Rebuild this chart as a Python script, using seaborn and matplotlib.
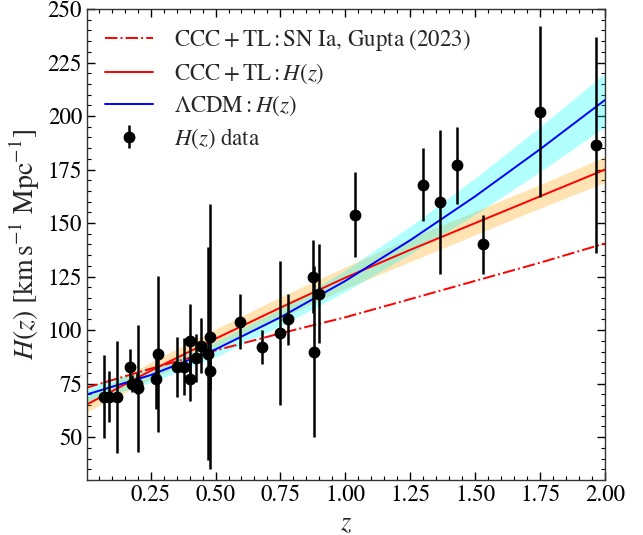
import numpy as np
import matplotlib
matplotlib.use("Agg")
import matplotlib.pyplot as plt
from matplotlib.ticker import MultipleLocator
import seaborn as sns

# H(z) cosmic chronometer data
z_data = [0.07, 0.09, 0.12, 0.17, 0.179, 0.199, 0.20, 0.27, 0.28, 0.352, 0.38,
          0.40, 0.4004, 0.425, 0.445, 0.47, 0.4783, 0.48, 0.593, 0.68, 0.75,
          0.781, 0.875, 0.88, 0.90, 1.037, 1.30, 1.363, 1.43, 1.53, 1.75, 1.965]
H_data = [69.0, 69.0, 68.6, 83.0, 75.0, 75.0, 72.9, 77.0, 88.8, 83.0, 83.0,
          95.0, 77.0, 87.1, 92.8, 89.0, 80.9, 97.0, 104.0, 92.0, 98.8,
          105.0, 125.0, 90.0, 117.0, 154.0, 168.0, 160.0, 177.0, 140.0, 202.0, 186.5]
H_err = [19.6, 12.0, 26.2, 8.0, 4.0, 5.0, 29.6, 14.0, 36.6, 14.0, 13.5,
         17.0, 10.2, 11.2, 12.9, 49.6, 9.0, 62.0, 13.0, 8.0, 33.6,
         12.0, 17.0, 40.0, 23.0, 20.0, 17.0, 33.6, 18.0, 14.0, 40.0, 50.4]

# model curves
z_grid = [0.0, 0.25, 0.5, 0.75, 1.0, 1.25, 1.5, 1.75, 2.0]
H_sn = [73.0, 82.0, 90.5, 98.5, 106.0, 114.5, 123.0, 131.5, 140.5]
H_ccc = [65.0, 81.0, 96.0, 110.5, 124.5, 137.5, 150.0, 162.5, 175.0]
H_ccc_lo = [61.5, 77.0, 91.5, 105.5, 119.5, 132.0, 144.5, 157.0, 169.0]
H_ccc_hi = [68.5, 85.0, 100.5, 115.5, 129.5, 143.0, 155.5, 168.0, 181.0]
H_lcdm = [69.8, 79.0, 91.0, 106.0, 123.0, 142.0, 162.5, 184.5, 207.5]
H_lcdm_lo = [66.1, 75.5, 87.5, 102.0, 118.0, 135.5, 154.0, 174.0, 195.0]
H_lcdm_hi = [73.5, 82.5, 94.5, 110.0, 128.0, 148.5, 171.0, 195.0, 220.0]

sns.set_style("ticks")
plt.rcParams['font.family'] = ['STIXGeneral', 'DejaVu Serif']
plt.rcParams['mathtext.fontset'] = 'stix'

fig = plt.figure(figsize=(6.43, 5.35), dpi=100)
ax = fig.add_axes([0.1353, 0.1028, 0.8056, 0.8804])

ax.fill_between(z_grid, H_ccc_lo, H_ccc_hi, color="orange", alpha=0.3, lw=0)
ax.fill_between(z_grid, H_lcdm_lo, H_lcdm_hi, color="cyan", alpha=0.3, lw=0)

sns.lineplot(x=z_grid, y=H_sn, ax=ax, color="red", lw=1.4, linestyle="-.",
             label=r"$\mathrm{CCC+TL:SN\ Ia,\,Gupta\ (2023)}$")
sns.lineplot(x=z_grid, y=H_ccc, ax=ax, color="red", lw=1.4,
             label=r"$\mathrm{CCC+TL:}H(z)$")
sns.lineplot(x=z_grid, y=H_lcdm, ax=ax, color="blue", lw=1.4,
             label=r"$\Lambda\mathrm{CDM:}H(z)$")
ax.errorbar(z_data, H_data, yerr=H_err, fmt="o", color="black", ms=7.5,
            elinewidth=1.8, capsize=0, label=r"$H(z)\ \mathrm{data}$")

ax.set_xlim(0.005, 2.0)
ax.set_ylim(30, 250)
ax.xaxis.set_major_locator(MultipleLocator(0.25))
ax.xaxis.set_minor_locator(MultipleLocator(0.05))
ax.yaxis.set_major_locator(MultipleLocator(25))
ax.yaxis.set_minor_locator(MultipleLocator(5))
ax.tick_params(which="both", direction="in", top=True, right=True,
               labelsize=16.5, colors="black")
ax.tick_params(which="major", length=6, width=1)
ax.tick_params(which="minor", length=3, width=0.8)
for sp in ax.spines.values():
    sp.set_color("#333333")
    sp.set_linewidth(1.0)

ax.set_xlabel(r"$z$", fontsize=19)
ax.set_ylabel(r"$H(z)\ [\mathrm{km\,s^{-1}\ Mpc^{-1}}]$", fontsize=20)

ax.legend(loc="upper left", frameon=False, fontsize=16.5, handlelength=2.1,
          borderaxespad=0.4, labelspacing=0.35, handletextpad=0.9)

fig.savefig("out.png", dpi=100)
